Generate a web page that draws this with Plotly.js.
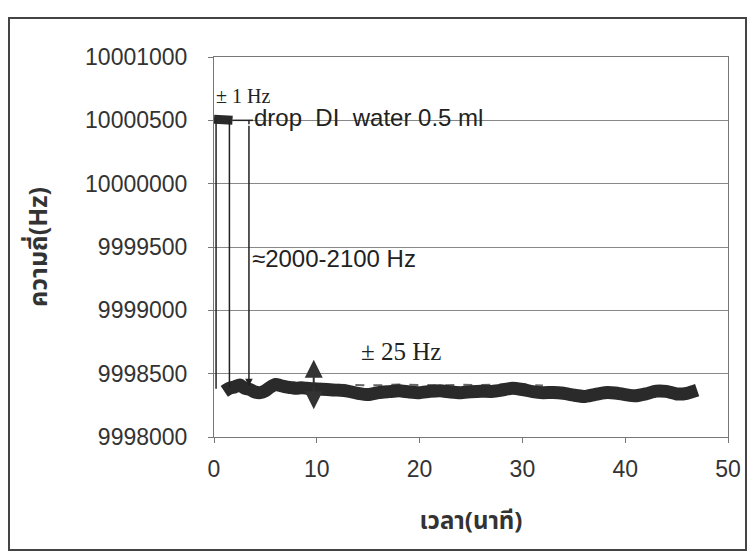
<!DOCTYPE html>
<html><head><meta charset="utf-8">
<script src="https://cdn.plot.ly/plotly-3.0.1.min.js"></script>
<style>html,body{margin:0;padding:0;background:#fff}#chart{width:754px;height:557px}</style>
</head><body><div id="chart"></div>
<script>
// Time (minutes) and measured frequency (Hz), read from the picture
// before the DI water drop
const timeBefore = [0, 0.4, 0.8, 1.2, 1.5, 1.8];
const freqBefore = [10000508, 10000508, 10000506, 10000504, 10000502, 10000500];
// after the drop
const timeAfter = [1.0, 1.5, 2, 2.5, 3, 3.5, 4, 4.5, 5, 5.5, 6, 6.5, 7, 7.5, 8, 8.5, 9, 9.5, 10,
  11, 12, 13, 14, 15, 16, 17, 18, 19, 20, 21, 22, 23, 24, 25, 26, 27, 28, 29, 30,
  31, 32, 33, 34, 35, 36, 37, 38, 39, 40, 41, 42, 43, 44, 45, 46, 47];
const freqAfter = [9998360, 9998385, 9998395, 9998410, 9998385, 9998375, 9998355, 9998350,
  9998365, 9998395, 9998415, 9998405, 9998395, 9998390, 9998385, 9998388, 9998385, 9998382, 9998380,
  9998375, 9998370, 9998362, 9998345, 9998335, 9998350, 9998358, 9998365, 9998355, 9998350, 9998360,
  9998365, 9998355, 9998350, 9998358, 9998362, 9998360, 9998370, 9998385, 9998375, 9998358, 9998350,
  9998352, 9998345, 9998330, 9998320, 9998335, 9998350, 9998348, 9998335, 9998325, 9998340, 9998362,
  9998360, 9998340, 9998345, 9998370];
// faint dashed upper edge of the band
const edgeTime = [12, 14, 16, 18, 20, 22, 24, 26, 28, 30, 32];
const edgeHz = [9998412, 9998410, 9998408, 9998414, 9998410, 9998408, 9998412, 9998410, 9998416, 9998414, 9998406];

const xTicks = [0, 10, 20, 30, 40, 50];
const yTicks = [9998000, 9998500, 9999000, 9999500, 10000000, 10000500, 10001000];
const yTickText = ['9998000', '9998500', '9999000', '9999500', '10000000', '10000500', '10001000'];

const ARIAL = 'Liberation Sans, Arial, sans-serif';
const TIMES = 'Liberation Serif, Times New Roman, serif';
const THAI = 'Noto Sans Thai, Noto Sans, DejaVu Sans, sans-serif';

const traces = [
  {x: edgeTime, y: edgeHz, type: 'scatter', mode: 'lines', line: {color: '#666', width: 2, dash: 'dash'}, hoverinfo: 'skip'},
  {x: timeBefore, y: freqBefore, type: 'scatter', mode: 'lines', line: {color: '#2a2a2a', width: 9}},
  {x: timeAfter, y: freqAfter, type: 'scatter', mode: 'lines', line: {color: '#2a2a2a', width: 13, shape: 'spline', smoothing: 0.6}}
];

const px = v => (v - 214) / 514;
const py = v => (437 - v) / 380;

const layout = {
  width: 754, height: 557,
  margin: {l: 214, r: 26, t: 57, b: 120},
  paper_bgcolor: '#fff', plot_bgcolor: '#fff',
  showlegend: false,
  xaxis: {
    range: [0, 50], tickvals: xTicks, ticktext: xTicks.map(String),
    showgrid: false, zeroline: false, showline: true, linecolor: '#777', linewidth: 1, mirror: true,
    ticks: 'outside', ticklen: 5, tickcolor: '#777',
    tickfont: {family: ARIAL, size: 23, color: '#333'}, ticklabelstandoff: 6,
    title: {text: '<b>เวลา(นาที)</b>', font: {family: THAI, size: 24, color: '#333'}, standoff: 31}
  },
  yaxis: {
    range: [9998000, 10001000], tickvals: yTicks, ticktext: yTickText,
    showgrid: true, gridcolor: '#888', gridwidth: 1, zeroline: false,
    showline: true, linecolor: '#777', linewidth: 1, mirror: true,
    ticks: 'outside', ticklen: 5, tickcolor: '#777',
    tickfont: {family: ARIAL, size: 23, color: '#333'}, ticklabelstandoff: 16,
    title: {text: '<b>ความถี่(Hz)</b>', font: {family: THAI, size: 25, color: '#333'}, standoff: 30}
  },
  shapes: [
    {type: 'rect', xref: 'paper', yref: 'paper', x0: px(9), x1: px(746), y0: py(550), y1: py(18),
      line: {color: '#444', width: 2}, fillcolor: 'rgba(0,0,0,0)'},
    {type: 'line', xref: 'x', yref: 'y', x0: 0.2, x1: 0.2, y0: 10000500, y1: 9998380, line: {color: '#222', width: 1.5}},
    {type: 'line', xref: 'x', yref: 'y', x0: 1.5, x1: 1.5, y0: 10000500, y1: 9998390, line: {color: '#222', width: 1.5}},
    {type: 'line', xref: 'x', yref: 'y', x0: 1.8, x1: 3.8, y0: 10000500, y1: 10000500, line: {color: '#222', width: 1.5}},
    {type: 'line', xref: 'x', yref: 'y', x0: 3.4, x1: 3.4, y0: 10000500, y1: 10000470, line: {color: '#222', width: 1.5}}
  ],
  annotations: [
    {x: 0, y: 10000690, xref: 'x', yref: 'y', xanchor: 'left', yanchor: 'middle', showarrow: false,
      text: '± 1 Hz', font: {family: TIMES, size: 20, color: '#222'}},
    {x: 3.7, y: 10000525, xref: 'x', yref: 'y', xanchor: 'left', yanchor: 'middle', showarrow: false,
      text: 'drop  DI  water 0.5 ml', font: {family: ARIAL, size: 24, color: '#222'}},
    {x: 3.5, y: 9999413, xref: 'x', yref: 'y', xanchor: 'left', yanchor: 'middle', showarrow: false,
      text: '≈2000-2100 Hz', font: {family: ARIAL, size: 24, color: '#222'}},
    {x: 14.1, y: 9998674, xref: 'x', yref: 'y', xanchor: 'left', yanchor: 'middle', showarrow: false,
      text: '± 25 Hz', font: {family: TIMES, size: 25, color: '#222'}},
    // arrow from "drop" down to the band
    {x: 3.4, y: 9998400, ax: 3.4, ay: 10000470, xref: 'x', yref: 'y', axref: 'x', ayref: 'y', showarrow: true,
      arrowhead: 2, arrowsize: 1, arrowwidth: 1.5, arrowcolor: '#222', text: ''},
    // double-headed arrow ±25 Hz
    {x: 9.7, y: 9998610, ax: 9.7, ay: 9998410, xref: 'x', yref: 'y', axref: 'x', ayref: 'y', showarrow: true,
      arrowhead: 2, arrowsize: 1.8, arrowwidth: 2, arrowcolor: '#333', text: ''},
    {x: 9.7, y: 9998220, ax: 9.7, ay: 9998410, xref: 'x', yref: 'y', axref: 'x', ayref: 'y', showarrow: true,
      arrowhead: 2, arrowsize: 1.8, arrowwidth: 2, arrowcolor: '#333', text: ''}
  ]
};

Plotly.newPlot('chart', traces, layout, {staticPlot: true, displayModeBar: false});
</script></body></html>
